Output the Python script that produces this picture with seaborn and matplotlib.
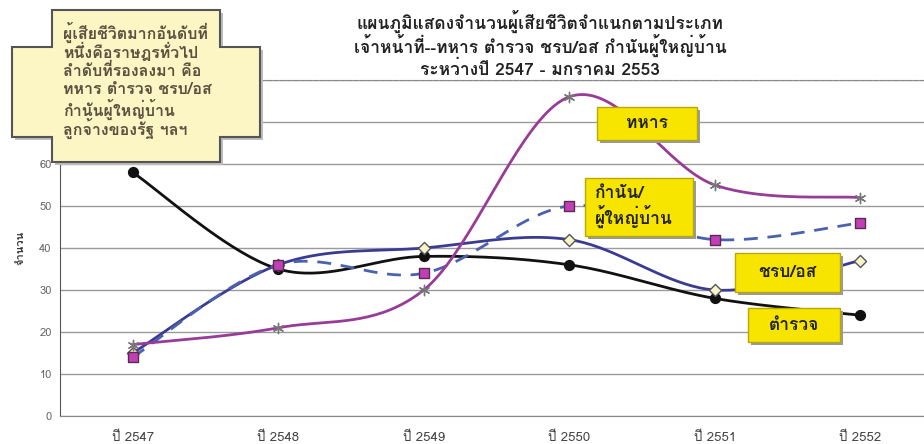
import numpy as np
import pandas as pd
import seaborn as sns
import matplotlib.pyplot as plt
from matplotlib.patches import Polygon, Rectangle

# data
years = ["ปี 2547", "ปี 2548", "ปี 2549", "ปี 2550", "ปี 2551", "ปี 2552"]
police = [58, 35, 38, 36, 28, 24]          # ตำรวจ
volunteer = [15, 36, 40, 42, 30, 37]       # ชรบ/อส
headman = [14, 36, 34, 50, 42, 46]         # กำนัน/ผู้ใหญ่บ้าน
soldier = [17, 21, 30, 76, 55, 52]         # ทหาร

title_lines = [
    "แผนภูมิแสดงจำนวนผู้เสียชีวิตจำแนกตามประเภท",
    "เจ้าหน้าที่--ทหาร ตำรวจ ชรบ/อส กำนันผู้ใหญ่บ้าน",
    "ระหว่างปี 2547 - มกราคม 2553",
]
note_lines = [
    "ผู้เสียชีวิตมากอันดับที่",
    "หนึ่งคือราษฎรทั่วไป",
    "ลำดับที่รองลงมา คือ",
    "ทหาร ตำรวจ ชรบ/อส",
    "กำนันผู้ใหญ่บ้าน",
    "ลูกจ้างของรัฐ ฯลฯ",
]

sns.set_style("white")
plt.rcParams["font.family"] = ["Loma", "DejaVu Sans"]

W, H = 924, 444
fig = plt.figure(figsize=(W / 100, H / 100), dpi=100)


def fx(px):
    return px / W


def fy(py):
    return 1 - py / H


ax = fig.add_axes([fx(60), fy(416), fx(933) - fx(60), fy(80) - fy(416)])


def smooth(vals, n=40):
    # Excel-like smoothed line (Catmull-Rom as cubic Bezier)
    p = np.column_stack([np.arange(len(vals)), vals]).astype(float)
    out = []
    for i in range(len(p) - 1):
        p0 = p[i - 1] if i > 0 else p[i]
        p1, p2 = p[i], p[i + 1]
        p3 = p[i + 2] if i + 2 < len(p) else p[i + 1]
        b1 = p1 + (p2 - p0) / 6
        b2 = p2 - (p3 - p1) / 6
        t = np.linspace(0, 1, n)[:, None]
        seg = ((1 - t) ** 3) * p1 + 3 * ((1 - t) ** 2) * t * b1 + 3 * (1 - t) * t ** 2 * b2 + t ** 3 * p2
        out.append(seg if i == 0 else seg[1:])
    return np.vstack(out)


series = [
    ("ตำรวจ", police, "#111111", "-", "o", "#111111", "#111111", 50),
    ("ชรบ/อส", volunteer, "#3b3b92", "-", "D", "#f6f4c8", "#555555", 38),
    ("กำนัน/ผู้ใหญ่บ้าน", headman, "#4a62ae", (0, (5, 3.5)), "s", "#c13fb4", "#5a2a55", 55),
    ("ทหาร", soldier, "#973c97", "-", (6, 2, 0), "#777777", "#777777", 55),
]

for k, (name, vals, col, ls, mk, mfc, mec, ms) in enumerate(series):
    c = smooth(vals)
    ax.plot(c[:, 0], c[:, 1], color=col, lw=2, ls=ls, zorder=3 + k)
    df = pd.DataFrame({"x": np.arange(len(vals)), "y": vals})
    sns.scatterplot(data=df, x="x", y="y", ax=ax, marker=mk, s=ms,
                    color=mfc, edgecolor=mec, linewidth=1.0, zorder=3.5 + k)

ax.set_xlim(-0.5, 5.5)
ax.set_ylim(0, 80)
ax.set_yticks(range(0, 81, 10))
ax.set_xticks(range(len(years)))
ax.set_xticklabels(years)
ax.set_xticks(np.arange(0.5, 5, 1), minor=True)
ax.tick_params(axis="x", which="major", length=0, pad=11, labelsize=9.5, labelcolor="#444444")
ax.tick_params(axis="x", which="minor", length=4, direction="out", color="#555555")
ax.tick_params(axis="y", length=4, direction="out", color="#555555", labelsize=8,
               labelcolor="#666666", pad=2)
ax.set_xlabel("")
ax.set_ylabel("จำนวน", fontsize=8, fontweight="bold", color="#333333", labelpad=10)
ax.yaxis.grid(True, color="#9a9a9a", lw=1)
ax.set_axisbelow(True)
ax.spines["right"].set_visible(False)
ax.spines["left"].set_color("#555555")
ax.spines["left"].set_linestyle((0, (3, 1)))
ax.spines["bottom"].set_color("#888888")
ax.spines["bottom"].set_linestyle((0, (4, 1)))
ax.spines["top"].set_color("#888888")
ax.spines["top"].set_linestyle((0, (4, 2)))

# title
for i, line in enumerate(title_lines):
    fig.text(fx(540), fy(21 + i * 24), line, ha="center", va="center",
             fontsize=12.5, fontweight="bold", color="#222222")

# cross-shaped note box
cross = [(52, 10), (220, 10), (220, 47), (260, 47), (260, 137), (220, 137),
         (220, 162), (52, 162), (52, 137), (12, 137), (12, 47), (52, 47)]
shadow = Polygon([(fx(x + 3), fy(y + 3)) for x, y in cross], closed=True,
                 transform=fig.transFigure, facecolor="#bdbdbd", edgecolor="none", zorder=10)
box = Polygon([(fx(x), fy(y)) for x, y in cross], closed=True, transform=fig.transFigure,
              facecolor="#fcf6c4", edgecolor="#555555", lw=1.5, zorder=11)
fig.patches.extend([shadow, box])
for i, line in enumerate(note_lines):
    t = fig.text(fx(63), fy(32 + i * 19.3), line, ha="left", va="center",
                 fontsize=11.5, fontweight="bold", color="#5c5040")
    t.set_zorder(12)


# yellow series labels
def tag(x0, y0, x1, y1, text, ha="center"):
    sh = Rectangle((fx(x0 + 3), fy(y1 + 3)), fx(x1) - fx(x0), fy(y0) - fy(y1),
                   transform=fig.transFigure, facecolor="#9a9a9a", edgecolor="none", zorder=10)
    rc = Rectangle((fx(x0), fy(y1)), fx(x1) - fx(x0), fy(y0) - fy(y1),
                   transform=fig.transFigure, facecolor="#f7e500", edgecolor="#b8a800",
                   lw=1, zorder=11)
    fig.patches.extend([sh, rc])
    tx = fx((x0 + x1) / 2) if ha == "center" else fx(x0 + 10)
    t = fig.text(tx, fy((y0 + y1) / 2), text, ha=ha, va="center", fontsize=12.5,
                 fontweight="bold", color="#222222", linespacing=1.25)
    t.set_zorder(12)


tag(597, 107, 697, 140, "ทหาร")
tag(585, 178, 693, 236, "กำนัน/\nผู้ใหญ่บ้าน", ha="left")
tag(735, 253, 840, 292, "ชรบ/อส")
tag(748, 308, 840, 342, "ตำรวจ")

fig.savefig("out.png", dpi=100)
